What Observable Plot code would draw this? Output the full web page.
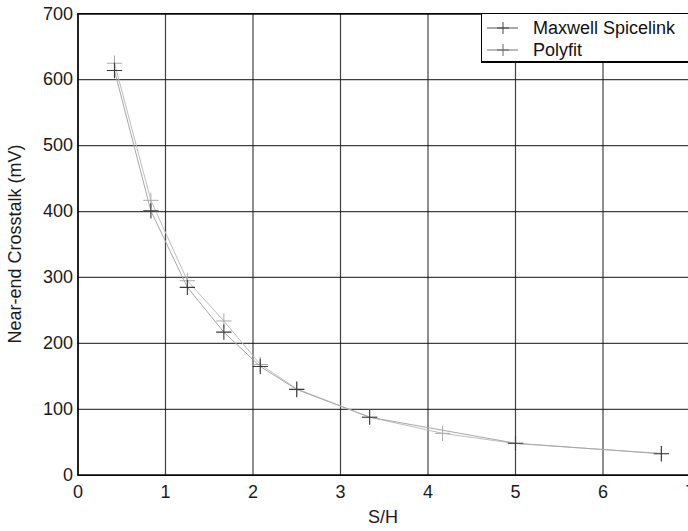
<!DOCTYPE html>
<html>
<head>
<meta charset="utf-8">
<script src="https://cdn.jsdelivr.net/npm/d3@7"></script>
<script src="https://cdn.jsdelivr.net/npm/@observablehq/plot@0.6"></script>
<style>
  html, body { margin: 0; padding: 0; background: #fff; }
  #wrap { position: relative; width: 688px; height: 531px; overflow: hidden;
    font-family: "Liberation Sans", Arial, sans-serif; color: #1a1a1a; }
  #legend { position: absolute; left: 481px; top: 13px; width: 220px; height: 47px;
    background: #fff; border: 1px solid #000; border-bottom: 2px solid #000;
    font-size: 18px; color: #111; }
  .row { position: absolute; left: 0; height: 22px; display: flex; align-items: center; }
  .row svg { margin-left: 5px; }
  .row span { margin-left: 14px; }
  .axlabel { position: absolute; font-size: 18px; white-space: nowrap; line-height: 1; }
</style>
</head>
<body>
<div id="wrap"></div>
<script>
// Data
const maxwellSH = [0.417, 0.833, 1.25, 1.667, 2.083, 2.5, 3.333, 5.0, 6.667];
const maxwellMV = [614, 401, 285, 217, 165, 130, 88, 48.5, 32.5];
const polySH = [0.417, 0.833, 1.25, 1.667, 2.083, 2.5, 3.333, 4.167, 5.0, 6.667];
const polyMV = [625, 417, 295, 234, 168, 131, 88, 63.5, 48, 33];
const xTicks = [0, 1, 2, 3, 4, 5, 6, 7];
const yTicks = [0, 100, 200, 300, 400, 500, 600, 700];
const seriesNames = ["Maxwell Spicelink", "Polyfit"];
const xLabel = "S/H";
const yLabel = "Near-end Crosstalk (mV)";

const maxwell = maxwellSH.map((x, i) => ({x, y: maxwellMV[i]}));
const poly = polySH.map((x, i) => ({x, y: polyMV[i]}));

const chart = Plot.plot({
  width: 688,
  height: 531,
  marginLeft: 77.5,
  marginRight: -2,
  marginTop: 13.3,
  marginBottom: 56.3,
  style: {fontFamily: "'Liberation Sans', Arial, sans-serif", fontSize: "18px", color: "#1a1a1a", background: "#fff", overflow: "visible"},
  x: {domain: [0, 7], ticks: xTicks, tickFormat: d3.format("d"), tickSize: 0, tickPadding: 10, label: null},
  y: {domain: [0, 700], ticks: yTicks, tickFormat: d3.format("d"), tickSize: 0, tickPadding: 5, label: null},
  marks: [
    Plot.gridX(xTicks, {stroke: "#111", strokeOpacity: 0.8, strokeWidth: 1.2}),
    Plot.gridY(yTicks, {stroke: "#111", strokeOpacity: 0.8, strokeWidth: 1.2}),
    Plot.frame({stroke: "#000", strokeWidth: 1.5}),
    Plot.line(poly, {x: "x", y: "y", stroke: "#bdbdbd", strokeWidth: 1}),
    Plot.line(maxwell, {x: "x", y: "y", stroke: "#a8a8a8", strokeWidth: 1}),
    Plot.dot(poly, {x: "x", y: "y", symbol: "plus", r: 5, stroke: "#aaa", strokeWidth: 1}),
    Plot.dot(maxwell, {x: "x", y: "y", symbol: "plus", r: 5, stroke: "#3a3a3a", strokeWidth: 1.1})
  ]
});

const wrap = document.getElementById("wrap");
wrap.appendChild(chart);

// Axis titles
const xl = document.createElement("div");
xl.className = "axlabel";
xl.textContent = xLabel;
xl.style.left = "383px"; xl.style.top = "517px";
xl.style.transform = "translate(-50%, -50%)";
wrap.appendChild(xl);

const yl = document.createElement("div");
yl.className = "axlabel";
yl.textContent = yLabel;
yl.style.left = "15px"; yl.style.top = "244px";
yl.style.transform = "translate(-50%, -50%) rotate(-90deg)";
wrap.appendChild(yl);

// Legend
const legend = document.createElement("div");
legend.id = "legend";
const colors = [{line: "#555", mark: "#444"}, {line: "#777", mark: "#666"}];
seriesNames.forEach((name, i) => {
  const row = document.createElement("div");
  row.className = "row";
  row.style.top = (3 + i * 22) + "px";
  row.innerHTML = `<svg width="32" height="14"><line x1="0" y1="7" x2="31" y2="7" stroke="${colors[i].line}" stroke-width="1"/><line x1="16" y1="1" x2="16" y2="13" stroke="${colors[i].mark}" stroke-width="1"/><line x1="10" y1="7" x2="22" y2="7" stroke="${colors[i].mark}" stroke-width="1"/></svg><span>${name}</span>`;
  legend.appendChild(row);
});
wrap.appendChild(legend);
</script>
</body>
</html>
